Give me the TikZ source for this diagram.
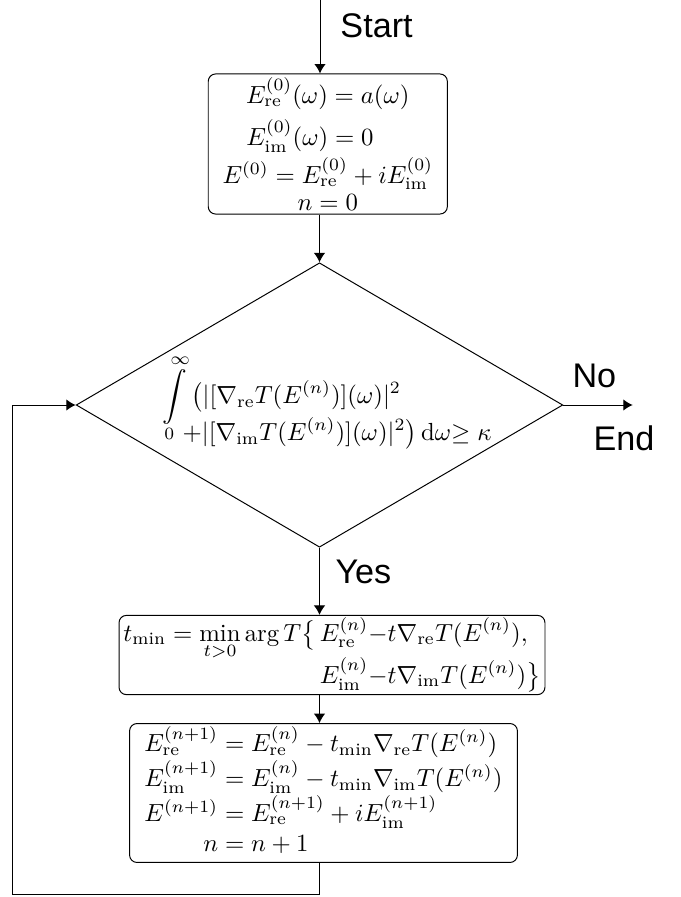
\documentclass[tikz,border=0pt]{standalone}
\usepackage{amsmath}
\usepackage{fontspec}
\newfontfamily\labelfont{Liberation Sans}
\usetikzlibrary{shapes.geometric,arrows.meta}
\setlength{\jot}{1pt}

\tikzset{
  procbox/.style={draw, rounded corners=3pt, inner sep=1pt},
  decision/.style={draw, diamond, inner sep=0pt},
  flowlabel/.style={font=\labelfont\fontsize{13.8}{16}\selectfont, inner sep=0pt},
  >={Latex[length=3.8pt,width=4.6pt]}
}

\begin{document}
\begin{tikzpicture}[x=0.404pt, y=-0.404pt]
  \useasboundingbox (0,0) rectangle (681,897);

  % Draw the boxes
  \node[procbox, align=center, minimum width=96.6pt, minimum height=56.6pt] (init) at (327.8,144)
    {$E^{(0)}_{\mathrm{re}}(\omega) = a(\omega)$\\[3pt]
     $E^{(0)}_{\mathrm{im}}(\omega) = 0\hphantom{(\omega)}$\\[1pt]
     $E^{(0)} = E^{(0)}_{\mathrm{re}} + iE^{(0)}_{\mathrm{im}}$\\[-1pt]
     $n = 0$};
  \node[decision, minimum width=196.6pt, minimum height=114.9pt] (check) at (319.5,405) {};
  \node[inner sep=0pt] (cond) at (327,402)
    {$\begin{aligned}
        \smash[b]{\displaystyle\int\limits_0^\infty}\, &\bigl(|[\nabla_{\mathrm{re}}T(E^{(n)})](\omega)|^2\\
        &\kern-3.5pt{+}|[\nabla_{\mathrm{im}}T(E^{(n)})](\omega)|^2\bigr)\,\mathrm{d}\omega{\geq}\;\kappa
      \end{aligned}$};
  \node[procbox, minimum width=172.1pt, minimum height=29.9pt] (linesearch) at (332,655)
    {$\displaystyle t_{\min} = \min_{t>0}\arg T\bigl\{\,
      \begin{aligned}[t]
        &E^{(n)}_{\mathrm{re}}{-}t\nabla_{\mathrm{re}}T(E^{(n)}),\\[1pt]
        &E^{(n)}_{\mathrm{im}}{-}t\nabla_{\mathrm{im}}T(E^{(n)})\bigr\}
      \end{aligned}$};
  \node[procbox, minimum width=156.3pt, minimum height=53.3pt] (update) at (323.5,793)
    {$\begin{array}{r@{}l}
      E^{(n+1)}_{\mathrm{re}} &{}= E^{(n)}_{\mathrm{re}} - t_{\min}\nabla_{\mathrm{re}}T(E^{(n)})\\
      E^{(n+1)}_{\mathrm{im}} &{}= E^{(n)}_{\mathrm{im}} - t_{\min}\nabla_{\mathrm{im}}T(E^{(n)})\\
      E^{(n+1)} &{}= E^{(n+1)}_{\mathrm{re}} + iE^{(n+1)}_{\mathrm{im}}\\
      n &{}= n+1
    \end{array}$};

  % Draw the free ends
  \coordinate (start) at (320,0);
  \coordinate (finish) at (632.7,405);
  \coordinate (loopcorner) at (12.7,894);

  % Draw the connectors
  \draw[->] (start) -- (init.north -| start);
  \draw[->] (init.south -| check.north) -- (check.north);
  \draw[->] (check.east) -- (finish);
  \draw[->] (check.south) -- (linesearch.north -| check.south);
  \draw[->] (linesearch.south -| check.south) -- (update.north -| check.south);
  \draw[->] (update.south -| check.south) |- (loopcorner) |- (check.west);

  % Draw the labels
  \node[flowlabel, anchor=base west] (startlabel) at (340,37) {Start};
  \node[flowlabel, anchor=base west] (nolabel) at (572,387) {No};
  \node[flowlabel, anchor=base west] (endlabel) at (593,450) {End};
  \node[flowlabel, anchor=base west] (yeslabel) at (335,583) {Yes};
\end{tikzpicture}
\end{document}
